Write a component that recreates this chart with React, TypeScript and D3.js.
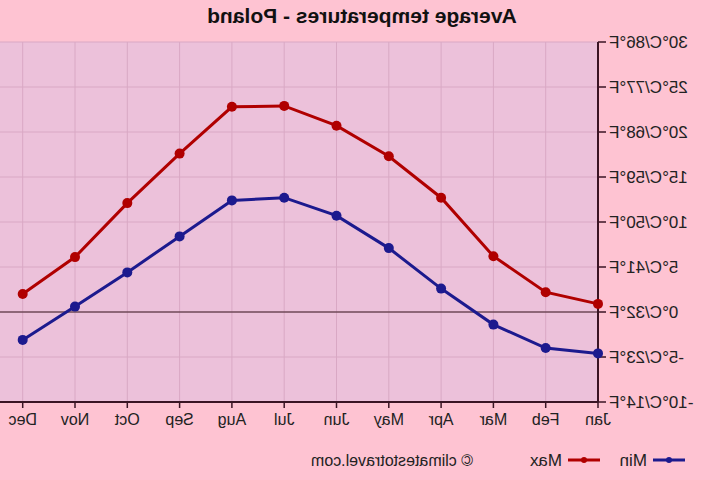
import React from "react";
import * as d3 from "d3";

// monthly averages (°C)
const months = ["Jan", "Feb", "Mar", "Apr", "May", "Jun", "Jul", "Aug", "Sep", "Oct", "Nov", "Dec"];
const maxTemps = [0.9, 2.2, 6.2, 12.7, 17.3, 20.7, 22.9, 22.8, 17.6, 12.1, 6.1, 2.0];
const minTemps = [-4.6, -4.0, -1.4, 2.6, 7.1, 10.7, 12.7, 12.4, 8.4, 4.4, 0.6, -3.1];
const yTicks = [-10, -5, 0, 5, 10, 15, 20, 25, 30];

const W = 720;
const H = 480;
const RED = "#b00000";
const BLUE = "#1c1a8e";

const toF = (c: number) => Math.round((c * 9) / 5 + 32);

const App = () => {
  const left = 122;
  const top = 42;
  const bottom = 402;
  const step = 52.3;

  const x = d3.scalePoint<string>().domain(months).range([left, left + step * 11]);
  const y = d3.scaleLinear().domain([-10, 30]).range([bottom, top]);

  const line = d3
    .line<number>()
    .x((_, i) => x(months[i]) as number)
    .y((d) => y(d));

  const series = [
    { name: "Max", values: maxTemps, color: RED },
    { name: "Min", values: minTemps, color: BLUE },
  ];

  return (
    <svg
      width={W}
      height={H}
      style={{ position: "absolute", left: 0, top: 0, fontFamily: "Liberation Sans, Arial, sans-serif" }}
    >
      <rect width={W} height={H} fill="#fec3d2" />
      {/* the reference is a mirror image, so the whole chart is flipped */}
      <g transform={`translate(${W},0) scale(-1,1)`}>
        <rect x={left} y={top} width={W - left} height={bottom - top} fill="#ecc1da" />
        {yTicks.map((t) => (
          <line key={"gy" + t} x1={left} x2={W} y1={y(t)} y2={y(t)} stroke="#d9a8c4" strokeWidth={1} />
        ))}
        {months.map((m) => (
          <line key={"gx" + m} x1={x(m)} x2={x(m)} y1={top} y2={bottom} stroke="#d9a8c4" strokeWidth={1} />
        ))}
        <line x1={left} x2={W} y1={y(0)} y2={y(0)} stroke="#3a1a22" strokeWidth={1.2} />

        {/* left axis */}
        <line x1={left} x2={left} y1={top} y2={bottom} stroke="#3a1424" strokeWidth={2} />
        {yTicks.map((t) => (
          <g key={"yt" + t}>
            <line x1={left - 8} x2={left} y1={y(t)} y2={y(t)} stroke="#3a1424" strokeWidth={1.5} />
            <text x={left - 11} y={y(t) + 6} textAnchor="end" fontSize={17} fill="#222">
              {`${t}°C/${toF(t)}°F`}
            </text>
          </g>
        ))}

        {/* bottom axis */}
        <line x1={left} x2={W} y1={bottom} y2={bottom} stroke="#3a1424" strokeWidth={2} />
        {months.map((m) => (
          <g key={"xt" + m}>
            <line x1={x(m)} x2={x(m)} y1={bottom} y2={bottom + 6} stroke="#3a1424" strokeWidth={1.5} />
            <text x={x(m)} y={bottom + 23} textAnchor="middle" fontSize={16} fill="#222">
              {m}
            </text>
          </g>
        ))}

        {series.map((s) => (
          <g key={s.name}>
            <path d={line(s.values) || ""} fill="none" stroke={s.color} strokeWidth={3} />
            {s.values.map((v, i) => (
              <circle key={i} cx={x(months[i])} cy={y(v)} r={5} fill={s.color} />
            ))}
          </g>
        ))}

        <text x={358} y={23} textAnchor="middle" fontSize={21} fontWeight="bold" fill="#111">
          Average temperatures - Poland
        </text>

        {/* legend */}
        <line x1={35} x2={67} y1={460} y2={460} stroke={BLUE} strokeWidth={3} />
        <circle cx={51} cy={460} r={3} fill={BLUE} />
        <text x={73} y={466} fontSize={17} fill="#222">Min</text>
        <line x1={120} x2={152} y1={460} y2={460} stroke={RED} strokeWidth={3} />
        <circle cx={136} cy={460} r={3} fill={RED} />
        <text x={158} y={466} fontSize={17} fill="#222">Max</text>
        <text x={247} y={466} fontSize={16} fill="#222">© climatestotravel.com</text>
      </g>
    </svg>
  );
};

export default App;
